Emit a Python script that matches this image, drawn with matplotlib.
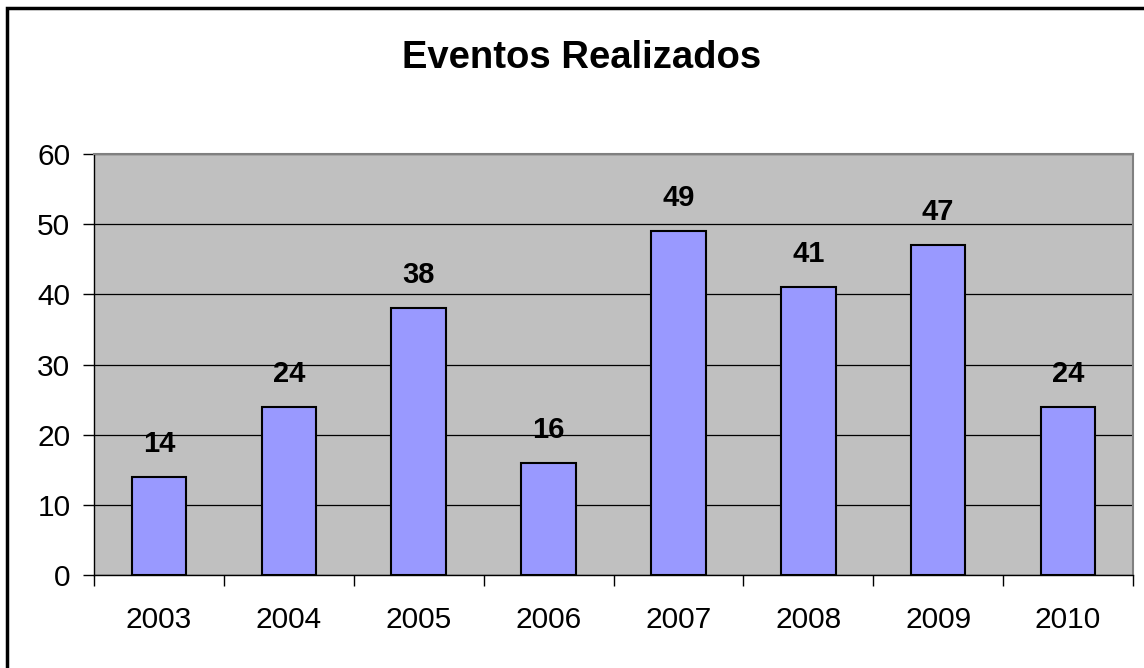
import matplotlib.pyplot as plt
import numpy as np
from matplotlib.patches import Rectangle

plt.rcParams['font.family'] = ['Liberation Sans', 'DejaVu Sans']

years = ['2003', '2004', '2005', '2006', '2007', '2008', '2009', '2010']
eventos = [14, 24, 38, 16, 49, 41, 47, 24]
y_ticks = [0, 10, 20, 30, 40, 50, 60]

fig = plt.figure(figsize=(11.44, 6.68), dpi=100)
ax = fig.add_axes([94 / 1144, 1 - 575 / 668, (1133 - 94) / 1144, (575 - 154) / 668])

# outer chart border
fig.patches.append(Rectangle((7 / 1144, -0.05), 1.2, 1 - 8 / 668 + 0.05, transform=fig.transFigure,
                             fill=False, edgecolor='black', linewidth=2.5))

x = np.arange(len(years))
ax.set_facecolor('#c0c0c0')
ax.bar(x, eventos, width=0.42, color='#9999ff', edgecolor='black', linewidth=1.5, zorder=3)
for xi, v in zip(x, eventos):
    ax.annotate(str(v), (xi, v), xytext=(0, 33), textcoords='offset pixels', ha='center', va='center',
                fontsize=21, fontweight='bold', zorder=4)

ax.set_xlim(-0.5, len(years) - 0.5)
ax.set_ylim(0, 60)
ax.set_yticks(y_ticks)
ax.set_yticklabels([str(t) for t in y_ticks])
ax.yaxis.grid(True, color='black', linewidth=0.9, zorder=1)
ax.set_axisbelow(True)

ax.set_xticks(x)
ax.set_xticklabels(years)
ax.set_xticks(np.arange(-0.5, len(years)), minor=True)
ax.tick_params(axis='x', which='major', length=0, pad=22, labelsize=21.5)
ax.tick_params(axis='x', which='minor', length=8, width=1, direction='out')
ax.tick_params(axis='y', length=8, width=1, direction='out', pad=9, labelsize=21.5)

for s in ['left', 'bottom']:
    ax.spines[s].set_color('black')
    ax.spines[s].set_linewidth(1)
for s in ['top', 'right']:
    ax.spines[s].set_color('#808080')
    ax.spines[s].set_linewidth(1.5)

fig.text(582 / 1144, 1 - 58 / 668, 'Eventos Realizados', ha='center', va='center',
         fontsize=27.5, fontweight='bold')

fig.savefig('out.png', dpi=100)
